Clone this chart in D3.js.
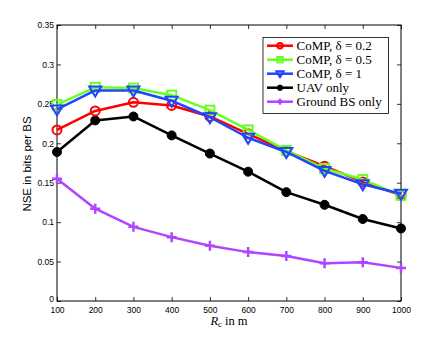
<!DOCTYPE html>
<html><head><meta charset="utf-8">
<script src="https://cdn.jsdelivr.net/npm/d3@7"></script>
<style>body{margin:0;background:#fff}svg{display:block}</style>
</head><body><svg id="c" width="443" height="339"></svg>
<script>
const xValues = [100,200,300,400,500,600,700,800,900,1000];
const xTicks = [100,200,300,400,500,600,700,800,900,1000];
const yTicks = [0,0.05,0.1,0.15,0.2,0.25,0.3,0.35];
const comp02 = [0.217,0.241,0.252,0.248,0.234,0.212,0.190,0.171,0.151,0.134];
const comp05 = [0.249,0.271,0.270,0.261,0.242,0.217,0.191,0.168,0.154,0.134];
const comp1  = [0.243,0.267,0.267,0.254,0.233,0.207,0.189,0.165,0.148,0.136];
const uavOnly = [0.189,0.229,0.234,0.210,0.187,0.164,0.138,0.122,0.104,0.092];
const groundOnly = [0.155,0.117,0.094,0.081,0.070,0.062,0.057,0.048,0.049,0.042];
const seriesNames = ["CoMP, δ = 0.2","CoMP, δ = 0.5","CoMP, δ = 1","UAV only","Ground BS only"];

const svg = d3.select("#c");
const L=57, R=401, T=25, B=301;
const x = d3.scaleLinear().domain([100,1000]).range([L,R]);
const y = d3.scaleLinear().domain([0,0.35]).range([B,T]);

// axes
const ga = svg.append("g");
ga.append("g").attr("transform",`translate(0,${B})`)
  .call(d3.axisBottom(x).tickValues(xTicks).tickSize(-4).tickPadding(4).tickFormat(d3.format("d")))
  .call(g=>{g.select(".domain").remove(); g.selectAll("text").attr("font-family","Liberation Sans, Arial, sans-serif").attr("font-size","8.5px").attr("fill","#000").attr("dy","0.9em");});
ga.append("g").attr("transform",`translate(${L},0)`)
  .call(d3.axisLeft(y).tickValues(yTicks).tickSize(-4).tickPadding(3).tickFormat(d=>d===0?"0":String(+d.toFixed(2))))
  .call(g=>{g.select(".domain").remove(); g.selectAll("text").attr("font-family","Liberation Sans, Arial, sans-serif").attr("font-size","8.5px").attr("fill","#000");
    g.selectAll(".tick").filter(d=>d===0).select("text").attr("dy","0.1em");});
ga.append("g").attr("transform",`translate(0,${T})`)
  .call(d3.axisTop(x).tickValues(xTicks).tickSize(-4).tickFormat(""))
  .call(g=>g.select(".domain").remove());
ga.append("g").attr("transform",`translate(${R},0)`)
  .call(d3.axisRight(y).tickValues(yTicks).tickSize(-4).tickFormat(""))
  .call(g=>g.select(".domain").remove());
ga.selectAll(".tick line").attr("stroke","#000").attr("stroke-width",0.8);
svg.append("rect").attr("x",L).attr("y",T).attr("width",R-L).attr("height",B-T)
  .attr("fill","none").attr("stroke","#000").attr("stroke-width",1);

const series = [
  {name:seriesNames[0], vals:comp02, color:"#ff0000", marker:"circle"},
  {name:seriesNames[1], vals:comp05, color:"#66ff22", marker:"square"},
  {name:seriesNames[2], vals:comp1, color:"#2244ff", marker:"triangle"},
  {name:seriesNames[3], vals:uavOnly, color:"#000000", marker:"dot"},
  {name:seriesNames[4], vals:groundOnly, color:"#b044ff", marker:"plus"}
];

function drawMarker(g, type, cx, cy, color, s){
  if(type==="circle") g.append("circle").attr("cx",cx).attr("cy",cy).attr("r",4.5*s).attr("fill","none").attr("stroke",color).attr("stroke-width",2);
  else if(type==="square") g.append("rect").attr("x",cx-4.5*s).attr("y",cy-4.5*s).attr("width",9*s).attr("height",9*s).attr("fill","none").attr("stroke",color).attr("stroke-width",2);
  else if(type==="triangle") g.append("path").attr("d",`M${cx-6*s},${cy-4*s}L${cx+6*s},${cy-4*s}L${cx},${cy+6*s}Z`).attr("fill","none").attr("stroke",color).attr("stroke-width",2);
  else if(type==="dot") g.append("circle").attr("cx",cx).attr("cy",cy).attr("r",4.5*s).attr("fill",color).attr("stroke",color).attr("stroke-width",1);
  else if(type==="plus") g.append("path").attr("d",`M${cx-5*s},${cy}L${cx+5*s},${cy}M${cx},${cy-5*s}L${cx},${cy+5*s}`).attr("stroke",color).attr("stroke-width",2.5);
}

const line = d3.line().x((d,i)=>x(xValues[i])).y(d=>y(d));
const order = [3,4,0,1,2];
order.forEach(k=>{
  const s = series[k];
  const g = svg.append("g");
  g.append("path").datum(s.vals).attr("d",line).attr("fill","none").attr("stroke",s.color).attr("stroke-width",2.5).attr("stroke-linejoin","round");
  s.vals.forEach((v,i)=>drawMarker(g,s.marker,x(xValues[i]),y(v),s.color,1));
});

// legend
const lg = svg.append("g");
lg.append("rect").attr("x",263).attr("y",37.5).attr("width",125.5).attr("height",76).attr("fill","#fff").attr("stroke","#000").attr("stroke-width",0.8);
series.forEach((s,i)=>{
  const yy = 45.7 + i*14;
  lg.append("line").attr("x1",267).attr("x2",293).attr("y1",yy).attr("y2",yy).attr("stroke",s.color).attr("stroke-width",2.5);
  drawMarker(lg,s.marker,280,yy,s.color,0.6);
  lg.append("text").attr("x",296.5).attr("y",yy+4.2).attr("font-family","Liberation Serif, Times New Roman, serif").attr("font-size","13px").text(s.name);
});

// axis labels
svg.append("text").attr("transform","translate(31,164) rotate(-90)").attr("text-anchor","middle")
  .attr("font-family","Liberation Sans, Arial, sans-serif").attr("font-size","11.5px").text("NSE in bits per BS");
const xl = svg.append("text").attr("x",229).attr("y",325).attr("text-anchor","middle")
  .attr("font-family","Liberation Serif, Times New Roman, serif").attr("font-size","12.5px");
xl.append("tspan").attr("font-style","italic").text("R");
xl.append("tspan").attr("font-size","8.5px").attr("dy","2").text("c");
xl.append("tspan").attr("dy","-2").text(" in m");
</script></body></html>
